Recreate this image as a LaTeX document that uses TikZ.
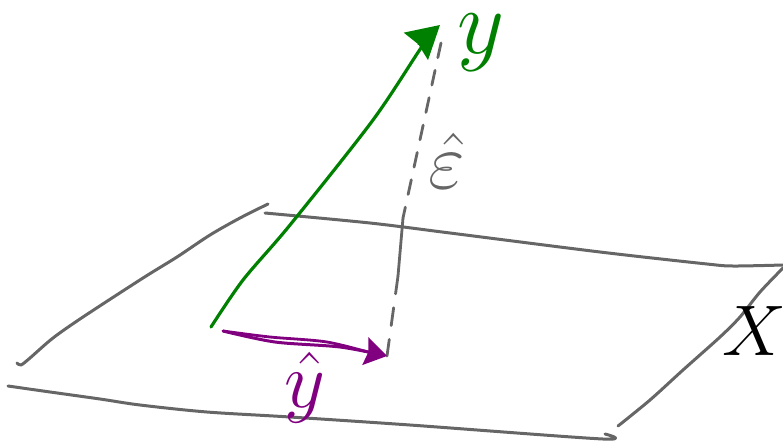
\documentclass[tikz,border=0pt]{standalone}
\usepackage{amsmath,amssymb}
\usepackage{tikz}
\usetikzlibrary{arrows.meta}
\definecolor{planegray}{HTML}{666666}
\definecolor{ygreen}{HTML}{008000}
\definecolor{hatpurple}{HTML}{800080}
\tikzset{
  plane/.style   = {line width=3pt, planegray, line cap=round, line join=round},
  resid/.style   = {line width=2.8pt, planegray, line cap=round},
  yvec/.style    = {line width=3.2pt, ygreen, line cap=round,
                    -{Stealth[length=32pt, width=36pt, inset=3pt]}},
  hatvec/.style  = {line width=3pt, hatpurple, line cap=round,
                    -{Stealth[length=22pt, width=28pt, inset=3pt]}},
  hand/.style    = {font=\Huge, inner sep=0pt, scale=3.2},
}

\begin{document}
\begin{tikzpicture}[x=1pt, y=-1pt]

      \clip (0,0) rectangle (783,447);

      % plane
      \draw[plane] plot[smooth, tension=0.5] coordinates {(17,363) (21,365) (30,358) (53,338) (83,317) (143,278) (177,257) (210,235) (240,218) (268,204)};
      \draw[plane] plot[smooth, tension=0.5] coordinates {(265,213) (370,223) (450,233) (600,252) (707,264) (733,266) (783,265)};
      \draw[plane] plot[smooth, tension=0.5] coordinates {(783,268) (760,292) (740,317) (720,337) (683,370) (650,400) (618,426)};
      \draw[plane] plot[smooth, tension=0.5] coordinates {(8,386) (43,391) (100,399) (140,405) (207,412) (290,417) (410,425) (603,439) (605,434)};

      \coordinate (ybase) at (211,327);
      \coordinate (ytip) at (440,25);
      \coordinate (hatbase) at (223,331);
      \coordinate (hattip) at (387,356);
      \coordinate (kink) at (403,218);
      \coordinate (kinkend) at (398,276);

      % residual
      \draw[resid, dash pattern=on 15pt off 13pt] (441,43) -- (kink);
      \draw[resid] (kink) -- (kinkend);
      \draw[resid, dash pattern=on 18pt off 14pt] (kinkend) -- (hattip);

      % vectors
      \draw[yvec] plot[smooth, tension=0.5] coordinates {(ybase) (243,280) (290,225) (373,120) (423,45) (ytip)};
      \draw[line width=2.8pt, hatpurple] plot[smooth, tension=0.5] coordinates {(hatbase) (270,337) (327,342) (375,354)};
      \draw[hatvec] plot[smooth, tension=0.5] coordinates {(hatbase) (275,342) (340,347) (hattip)};

      % labels
      \node[hand, text=ygreen, scale=1.15] (ylab) at (481,43) {$y$};
      \node[hand, text=planegray] (elab) at (447,161) {$\hat{\varepsilon}$};
      \node[hand, text=hatpurple] (yhatlab) at (305,388) {$\hat{y}$};
      \node[hand, text=black, scale=0.9] (xlab) at (754,331) {$X$};

    \end{tikzpicture}
\end{document}
